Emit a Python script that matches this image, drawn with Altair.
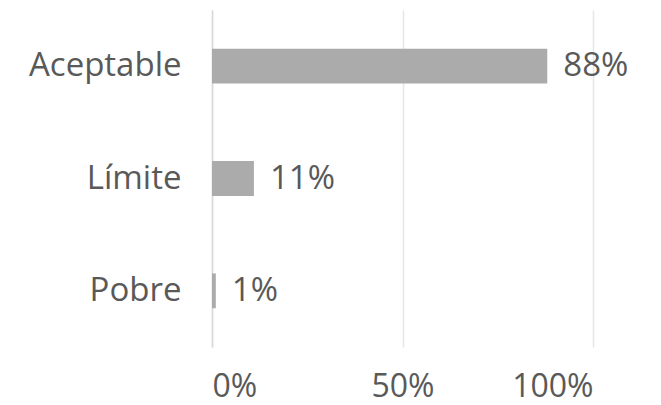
import altair as alt
import pandas as pd

categories = ["Aceptable", "Límite", "Pobre"]
values = [0.88, 0.11, 0.01]
labels = ["88%", "11%", "1%"]

df = pd.DataFrame({"cat": categories, "val": values, "lab": labels})

FONT = "Open Sans"
TXT = "#595959"

base = alt.Chart(df).encode(
    y=alt.Y("cat:N", sort=categories, title=None,
            scale=alt.Scale(paddingInner=0.69, paddingOuter=0.345),
            axis=alt.Axis(labelFont=FONT, labelFontSize=33, labelColor=TXT,
                          ticks=False, domain=True, domainColor="#d9d9d9",
                          domainWidth=1.5, labelPadding=31, grid=False)),
)

bars = base.mark_bar(color="#ababab").encode(
    x=alt.X("val:Q", title=None,
            scale=alt.Scale(domain=[0, 1]),
            axis=alt.Axis(values=[0, 0.5, 1], format=".0%", labelFont=FONT,
                          labelFontSize=32, labelColor=TXT, ticks=False,
                          domain=False, grid=True, gridColor="#e6e6e6",
                          gridWidth=1.5, labelPadding=24)),
)

text = base.mark_text(align="left", baseline="middle", dx=16, font=FONT,
                      fontSize=33, color=TXT).encode(
    x=alt.X("val:Q"),
    text="lab:N",
)

chart = (bars + text).properties(
    width=381, height=337,
    padding={"left": 20, "top": 2, "right": 5, "bottom": 0},
).configure_view(stroke=None)

chart.save("out.html", embed_options={"renderer": "svg", "actions": False})
